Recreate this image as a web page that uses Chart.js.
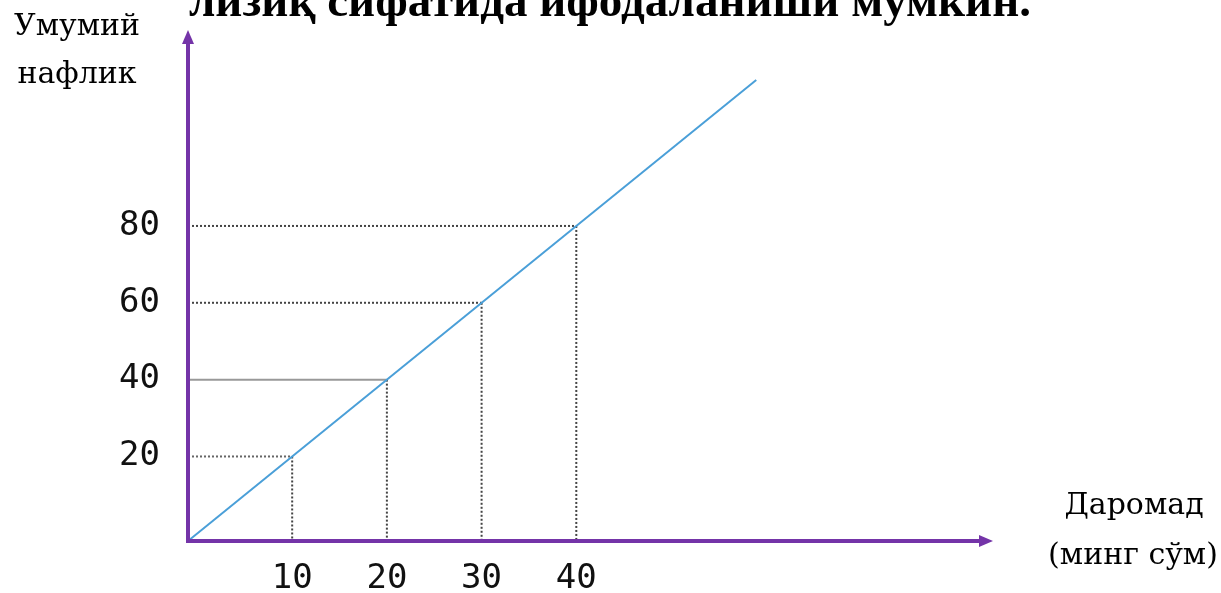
<!DOCTYPE html>
<html>
<head>
<meta charset="utf-8">
<script src="https://cdn.jsdelivr.net/npm/chart.js@4"></script>
<style>
  html, body { margin: 0; padding: 0; background: #fff; }
  canvas { display: block; }
</style>
</head>
<body>
<canvas id="chart" width="1221" height="593"></canvas>
<script>
// Axis ticks (income in thousand sum / total utility)
const incomeTicks = [10, 20, 30, 40];
const utilityTicks = [20, 40, 60, 80];

// Points where the dotted guides meet the line
const guideIncome = [10, 20, 30, 40];
const guideUtility = [20, 40, 60, 80];

// Total utility line, from the axes' corner to its end
const lineIncome = [-1, 59];
const lineUtility = [-2, 118];

const xMin = -1, xMax = 84;
const yMin = -2, yMax = 131;

const titleText = "лизиқ сифатида ифодаланиши мумкин.";
const yTitle = ["Умумий", "нафлик"];
const xTitle = ["Даромад", "(минг сўм)"];

const axisColor = "#7434a8";
// the horizontal guide at 40 is a plain grey rule in the original
const hDash = [[2, 2], [], [2, 2], [2, 2]];
const hColor = ["#666", "#999", "#444", "#444"];

const guides = [];
guideIncome.forEach((gx, i) => {
    guides.push({
        data: [{ x: xMin, y: guideUtility[i] }, { x: gx, y: guideUtility[i] }],
        borderColor: hColor[i],
        borderWidth: 2,
        borderDash: hDash[i],
        pointRadius: 0,
        showLine: true,
        order: 2,
        clip: false
    });
    guides.push({
        data: [{ x: gx, y: guideUtility[i] }, { x: gx, y: yMin }],
        borderColor: "#444",
        borderWidth: 2,
        borderDash: [2, 2],
        pointRadius: 0,
        showLine: true,
        order: 2,
        clip: false
    });
});

const lineSet = {
    data: lineIncome.map((x, i) => ({ x: x, y: lineUtility[i] })),
    borderColor: "#4a9fd8",
    borderWidth: 2,
    pointRadius: 0,
    showLine: true,
    order: 1,
    clip: false
};

const decorations = {
    id: "decorations",
    afterDatasetsDraw(chart) {
        const ctx = chart.ctx;
        const { left, right, top, bottom } = chart.chartArea;
        ctx.save();

        // axes with arrows
        ctx.strokeStyle = axisColor;
        ctx.fillStyle = axisColor;
        ctx.lineWidth = 4;
        ctx.beginPath();
        ctx.moveTo(left, bottom + 2);
        ctx.lineTo(left, top + 10);
        ctx.moveTo(left - 2, bottom);
        ctx.lineTo(right - 10, bottom);
        ctx.stroke();
        ctx.beginPath();
        ctx.moveTo(left, top);
        ctx.lineTo(left - 6, top + 14);
        ctx.lineTo(left + 6, top + 14);
        ctx.closePath();
        ctx.fill();
        ctx.beginPath();
        ctx.moveTo(right, bottom);
        ctx.lineTo(right - 14, bottom - 6);
        ctx.lineTo(right - 14, bottom + 6);
        ctx.closePath();
        ctx.fill();

        // heading cut at the top
        ctx.fillStyle = "#000";
        ctx.font = "bold 47px 'Liberation Serif'";
        ctx.textAlign = "center";
        ctx.textBaseline = "alphabetic";
        ctx.fillText(titleText, 610, 16);

        // axis titles
        ctx.font = "30px 'DejaVu Serif'";
        ctx.textBaseline = "middle";
        ctx.fillText(yTitle[0], 77, 27);
        ctx.fillText(yTitle[1], 77, 75);
        ctx.fillText(xTitle[0], 1134, 506);
        ctx.fillText(xTitle[1], 1133, 556);
        ctx.restore();
    }
};

new Chart(document.getElementById("chart"), {
    type: "scatter",
    data: { datasets: [lineSet, ...guides] },
    options: {
        responsive: false,
        animation: false,
        events: [],
        layout: { padding: { top: 30, right: 228, left: 0, bottom: 0 } },
        plugins: { legend: { display: false }, tooltip: { enabled: false } },
        scales: {
            x: {
                type: "linear",
                min: xMin,
                max: xMax,
                grid: { display: false, drawTicks: false },
                border: { display: false },
                afterFit: (scale) => { scale.height = 52; },
                afterBuildTicks: (scale) => { scale.ticks = incomeTicks.map(v => ({ value: v })); },
                ticks: {
                    autoSkip: false,
                    maxRotation: 0,
                    padding: 18,
                    color: "#111",
                    font: { family: "'DejaVu Sans Mono'", size: 34 }
                }
            },
            y: {
                type: "linear",
                min: yMin,
                max: yMax,
                grid: { display: false, drawTicks: false },
                border: { display: false },
                afterFit: (scale) => {
                    scale.width = 188;
                    scale.paddingTop = 0;
                    scale.paddingBottom = 0;
                },
                afterBuildTicks: (scale) => { scale.ticks = utilityTicks.map(v => ({ value: v })); },
                ticks: {
                    autoSkip: false,
                    padding: 28,
                    color: "#111",
                    font: { family: "'DejaVu Sans Mono'", size: 34 }
                }
            }
        }
    },
    plugins: [decorations]
});
</script>
</body>
</html>
